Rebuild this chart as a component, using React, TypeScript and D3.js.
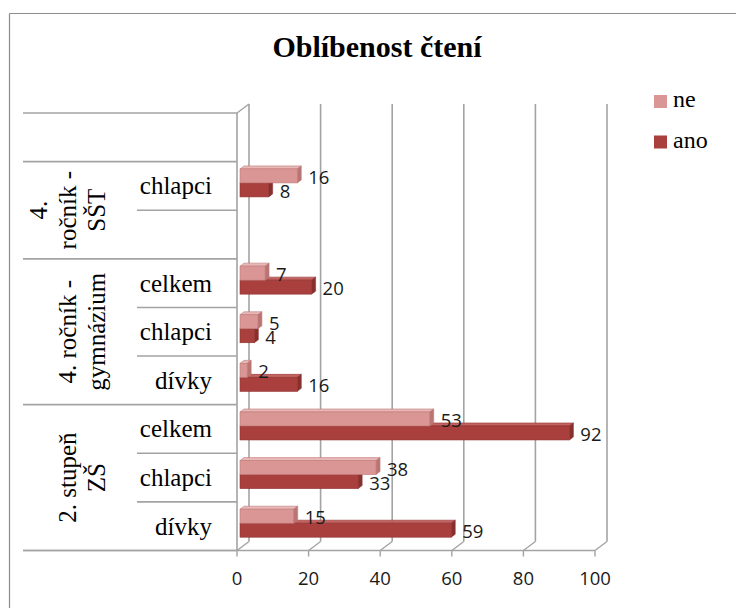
import React from "react";
import * as d3 from "d3";

const title = "Oblíbenost čtení";
const categories = ["top", "SST-chlapci", "SST-divky", "gym-celkem", "gym-chlapci", "gym-divky", "ZS-celkem", "ZS-chlapci", "ZS-divky"];
const subLabels = ["", "chlapci", "", "celkem", "chlapci", "dívky", "celkem", "chlapci", "dívky"];
const neValues: (number | null)[] = [null, 16, null, 7, 5, 2, 53, 38, 15];
const anoValues: (number | null)[] = [null, 8, null, 20, 4, 16, 92, 33, 59];
const groupLabels: string[][] = [[], ["4.", "ročník -", "SŠT"], ["4. ročník -", "gymnázium"], ["2. stupeň", "ZŠ"]];
const groupStart = [0, 1, 3, 6];
const groupEnd = [0, 2, 5, 8];
const xTicks = [0, 20, 40, 60, 80, 100];
const seriesNames = ["ne", "ano"];

const W = 736, H = 608;
const FRONT_TOP = 113, FRONT_BOTTOM = 550.5;
const DX = 12, DY = -9; // wall depth
const BDX = 4, BDY = -3; // bar depth
const BOFF = 3; // bar offset from front plane

const colors = {
  ne: { front: "#D99694", top: "#E8B8B7", side: "#B97473", stroke: "#C07A79" },
  ano: { front: "#A9403D", top: "#C46462", side: "#87302E", stroke: "#8F3331" },
};

const grid = "#A3A3A3";
const serif = "Liberation Serif, Tinos, DejaVu Serif, Noto Serif, serif";
const labelFont = "Open Sans, DejaVu Sans, sans-serif";

export default function App() {
  const x = d3.scaleLinear().domain([0, 100]).range([237, 595]);
  const y = d3.scaleBand<string>().domain(categories).range([FRONT_TOP, FRONT_BOTTOM]).padding(0);
  const bw = y.bandwidth();

  const bar = (v: number, yTop: number, h: number, c: any, key: string) => {
    const x0 = x(0) + BOFF, x1 = x(v) + BOFF;
    const y0 = yTop, y1 = yTop + h;
    return (
      <g key={key}>
        <polygon points={`${x0},${y0} ${x0 + BDX},${y0 + BDY} ${x1 + BDX},${y0 + BDY} ${x1},${y0}`} fill={c.top} stroke={c.stroke} strokeWidth={0.6} />
        <polygon points={`${x1},${y0} ${x1 + BDX},${y0 + BDY} ${x1 + BDX},${y1 + BDY} ${x1},${y1}`} fill={c.side} stroke={c.stroke} strokeWidth={0.6} />
        <rect x={x0} y={y0} width={x1 - x0} height={h} fill={c.front} stroke={c.stroke} strokeWidth={0.6} />
      </g>
    );
  };

  const barH = 14;

  const fullYs: number[] = groupStart.map((s) => y(categories[s])!).concat([FRONT_BOTTOM]);
  const partialYs: number[] = [];
  groupStart.forEach((s, gi) => {
    for (let i = s + 1; i <= groupEnd[gi]; i++) partialYs.push(y(categories[i])!);
  });

  return (
    <svg width={W} height={H} style={{ position: "absolute", left: 0, top: 0, background: "#fff" }}>
      <line x1={9.5} y1={13.5} x2={W} y2={13.5} stroke="#8c8c8c" strokeWidth={1.2} />
      <line x1={9.5} y1={13.5} x2={9.5} y2={H} stroke="#8c8c8c" strokeWidth={1.2} />

      <text x={377} y={57} textAnchor="middle" style={{ fontFamily: serif }} fontWeight="bold" fontSize={30} fill="#000">{title}</text>

      {xTicks.map((t) => (
        <g key={"g" + t}>
          <line x1={x(t) + DX} y1={FRONT_TOP + DY} x2={x(t) + DX} y2={FRONT_BOTTOM + DY} stroke={grid} strokeWidth={1.6} />
          <line x1={x(t)} y1={FRONT_BOTTOM} x2={x(t) + DX} y2={FRONT_BOTTOM + DY} stroke={grid} strokeWidth={1.4} />
          <line x1={x(t)} y1={FRONT_BOTTOM} x2={x(t)} y2={FRONT_BOTTOM + 6} stroke={grid} strokeWidth={1.4} />
          <text x={x(t)} y={585} textAnchor="middle" style={{ fontFamily: labelFont }} fontSize={18.5} fill="#1a1a1a">{t}</text>
        </g>
      ))}
      <line x1={x(0)} y1={FRONT_TOP} x2={x(0)} y2={FRONT_BOTTOM} stroke={grid} strokeWidth={1.6} />
      <line x1={x(0)} y1={FRONT_TOP} x2={x(0) + DX} y2={FRONT_TOP + DY} stroke={grid} strokeWidth={1.4} />
      <line x1={23} y1={FRONT_BOTTOM} x2={x(100)} y2={FRONT_BOTTOM} stroke={grid} strokeWidth={1.6} />

      {fullYs.map((yy, i) => (
        <line key={"f" + i} x1={23} y1={yy} x2={x(0)} y2={yy} stroke={grid} strokeWidth={1.6} />
      ))}
      {partialYs.map((yy, i) => (
        <line key={"p" + i} x1={137} y1={yy} x2={x(0)} y2={yy} stroke={grid} strokeWidth={1.6} />
      ))}

      {categories.map((c, i) => (
        <text key={"s" + c} x={212} y={y(c)! + bw / 2 + 8.5} textAnchor="end" style={{ fontFamily: serif }} fontSize={25} fill="#000">{subLabels[i]}</text>
      ))}

      {groupLabels.map((lines, gi) => {
        const cy = (y(categories[groupStart[gi]])! + y(categories[groupEnd[gi]])! + bw) / 2;
        const n = lines.length;
        return lines.map((ln, li) => {
          const bx = 105 - (n - 1 - li) * 29;
          return (
            <text key={"gl" + gi + li} transform={`translate(${bx},${cy}) rotate(-90)`} textAnchor="middle" style={{ fontFamily: serif }} fontSize={25} fill="#000">{ln}</text>
          );
        });
      })}

      {categories.map((c, i) => {
        const cy = y(c)! + bw / 2;
        const ne = neValues[i], ano = anoValues[i];
        const neTop = cy - 17, anoTop = cy - 3;
        return (
          <g key={"b" + c}>
            {ano != null && bar(ano, anoTop, barH, colors.ano, "a")}
            {ne != null && bar(ne, neTop, barH, colors.ne, "n")}
            {ne != null && (
              <text x={x(ne) + BOFF + BDX + 7} y={neTop + barH / 2 + 8} style={{ fontFamily: labelFont }} fontSize={18.5} fill="#1a1a1a">{ne}</text>
            )}
            {ano != null && (
              <text x={x(ano) + BOFF + BDX + 7} y={anoTop + barH / 2 + 8} style={{ fontFamily: labelFont }} fontSize={18.5} fill="#1a1a1a">{ano}</text>
            )}
          </g>
        );
      })}

      {seriesNames.map((s, i) => (
        <g key={"l" + s}>
          <rect x={654} y={95 + i * 40.5} width={13} height={13} fill={i === 0 ? colors.ne.front : colors.ano.front} />
          <text x={673} y={107 + i * 41} style={{ fontFamily: serif }} fontSize={24} fill="#000">{s}</text>
        </g>
      ))}
    </svg>
  );
}
